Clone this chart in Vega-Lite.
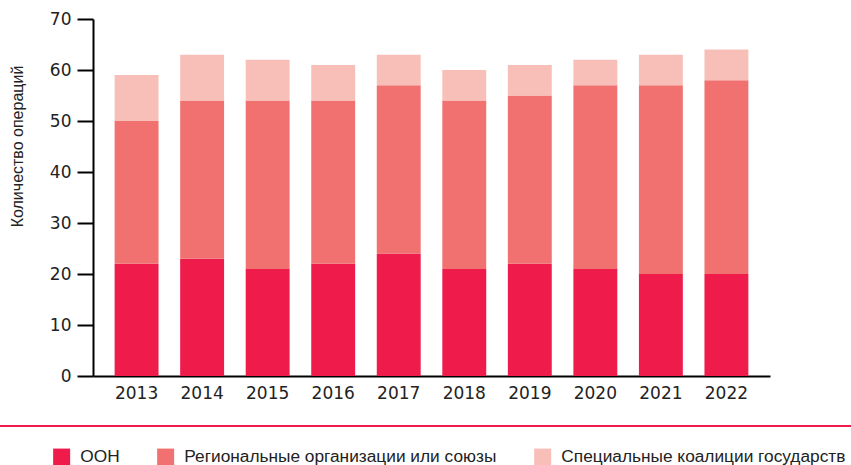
{
  "$schema": "https://vega.github.io/schema/vega-lite/v6.json",
  "width": 677,
  "height": 357,
  "autosize": {"type": "none"},
  "padding": {"left": 93, "top": 19, "right": 81, "bottom": 89},
  "background": "white",
  "config": {
    "view": {"stroke": null},
    "font": "Liberation Sans"
  },
  "datasets": {
    "ops": [
      {"year": "2013", "type": "ООН", "k": 1, "value": 22},
      {"year": "2013", "type": "Региональные организации или союзы", "k": 2, "value": 28},
      {"year": "2013", "type": "Специальные коалиции государств", "k": 3, "value": 9},
      {"year": "2014", "type": "ООН", "k": 1, "value": 23},
      {"year": "2014", "type": "Региональные организации или союзы", "k": 2, "value": 31},
      {"year": "2014", "type": "Специальные коалиции государств", "k": 3, "value": 9},
      {"year": "2015", "type": "ООН", "k": 1, "value": 21},
      {"year": "2015", "type": "Региональные организации или союзы", "k": 2, "value": 33},
      {"year": "2015", "type": "Специальные коалиции государств", "k": 3, "value": 8},
      {"year": "2016", "type": "ООН", "k": 1, "value": 22},
      {"year": "2016", "type": "Региональные организации или союзы", "k": 2, "value": 32},
      {"year": "2016", "type": "Специальные коалиции государств", "k": 3, "value": 7},
      {"year": "2017", "type": "ООН", "k": 1, "value": 24},
      {"year": "2017", "type": "Региональные организации или союзы", "k": 2, "value": 33},
      {"year": "2017", "type": "Специальные коалиции государств", "k": 3, "value": 6},
      {"year": "2018", "type": "ООН", "k": 1, "value": 21},
      {"year": "2018", "type": "Региональные организации или союзы", "k": 2, "value": 33},
      {"year": "2018", "type": "Специальные коалиции государств", "k": 3, "value": 6},
      {"year": "2019", "type": "ООН", "k": 1, "value": 22},
      {"year": "2019", "type": "Региональные организации или союзы", "k": 2, "value": 33},
      {"year": "2019", "type": "Специальные коалиции государств", "k": 3, "value": 6},
      {"year": "2020", "type": "ООН", "k": 1, "value": 21},
      {"year": "2020", "type": "Региональные организации или союзы", "k": 2, "value": 36},
      {"year": "2020", "type": "Специальные коалиции государств", "k": 3, "value": 5},
      {"year": "2021", "type": "ООН", "k": 1, "value": 20},
      {"year": "2021", "type": "Региональные организации или союзы", "k": 2, "value": 37},
      {"year": "2021", "type": "Специальные коалиции государств", "k": 3, "value": 6},
      {"year": "2022", "type": "ООН", "k": 1, "value": 20},
      {"year": "2022", "type": "Региональные организации или союзы", "k": 2, "value": 38},
      {"year": "2022", "type": "Специальные коалиции государств", "k": 3, "value": 6}
    ],
    "sep": [{"pos": -9.8}]
  },
  "layer": [
    {
      "data": {"name": "ops"},
      "mark": {"type": "bar"},
      "encoding": {
        "x": {
          "field": "year",
          "type": "nominal",
          "scale": {"paddingInner": 0.33, "paddingOuter": 0.33},
          "axis": {
            "title": null,
            "labelAngle": 0,
            "labelFont": "DejaVu Sans",
            "labelFontSize": 17,
            "labelColor": "#222222",
            "labelPadding": 9,
            "ticks": false,
            "domainColor": "#000000",
            "domainWidth": 2
          }
        },
        "y": {
          "field": "value",
          "type": "quantitative",
          "stack": "zero",
          "scale": {"domain": [0, 70], "nice": false},
          "axis": {
            "title": "Количество операций",
            "titleFontSize": 16,
            "titleFontWeight": "normal",
            "titleColor": "#222222",
            "titleX": -76,
            "titleY": 127,
            "titleAlign": "center",
            "titleBaseline": "middle",
            "titleAngle": -90,
            "values": [0, 10, 20, 30, 40, 50, 60, 70],
            "grid": false,
            "labelFont": "DejaVu Sans",
            "labelFontSize": 17,
            "labelColor": "#222222",
            "labelPadding": 6,
            "tickSize": 16,
            "tickColor": "#000000",
            "tickWidth": 2,
            "domainColor": "#000000",
            "domainWidth": 2
          }
        },
        "color": {
          "field": "type",
          "type": "nominal",
          "scale": {
            "domain": ["ООН", "Региональные организации или союзы", "Специальные коалиции государств"],
            "range": ["#EE1B4B", "#F07170", "#F8BFB9"]
          },
          "legend": {
            "title": null,
            "orient": "none",
            "direction": "horizontal",
            "columns": 3,
            "legendX": -40,
            "legendY": 429,
            "symbolType": "square",
            "symbolSize": 289,
            "symbolStrokeWidth": 0,
            "symbolOpacity": 1,
            "labelFontSize": 17.3,
            "labelColor": "#222222",
            "labelOffset": 10,
            "labelLimit": 400,
            "columnPadding": 37
          }
        },
        "order": {"field": "k", "type": "quantitative"}
      }
    },
    {
      "data": {"name": "sep"},
      "mark": {"type": "rule", "color": "#EE1B4B", "strokeWidth": 2},
      "encoding": {
        "y": {"field": "pos", "type": "quantitative"},
        "x": {"value": -93},
        "x2": {"value": 758}
      }
    }
  ]
}
